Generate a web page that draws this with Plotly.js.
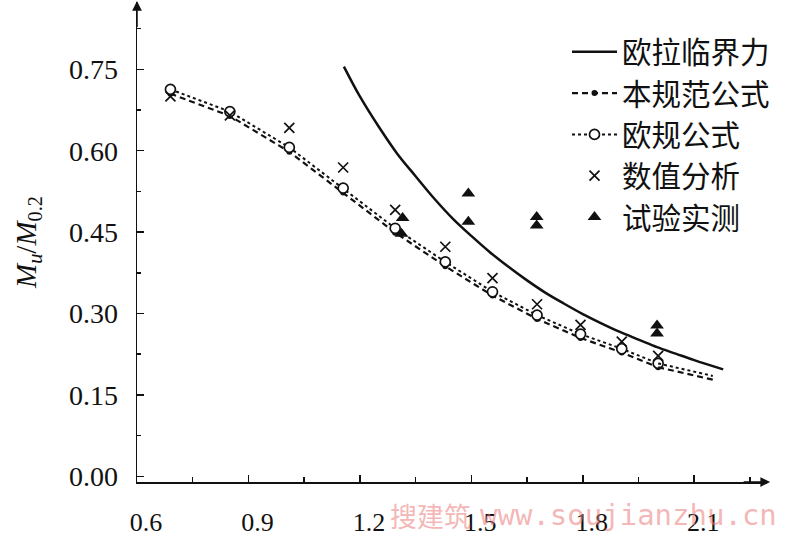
<!DOCTYPE html>
<html><head><meta charset="utf-8">
<script src="https://cdn.plot.ly/plotly-3.0.1.min.js"></script>
<style>html,body{margin:0;padding:0;background:#fff}#chart{width:800px;height:540px}</style>
</head><body><div id="chart"></div>
<script>
// slenderness values of the calculated points
const lambda = [0.69, 0.85, 1.01, 1.155, 1.295, 1.43, 1.557, 1.677, 1.794, 1.905, 2.003];
// 欧规公式 (open circles)
const euroCode = [0.713, 0.672, 0.606, 0.531, 0.457, 0.395, 0.340, 0.297, 0.262, 0.235, 0.208];
// 本规范公式 (filled dots)
const thisCode = [0.705, 0.664, 0.598, 0.523, 0.449, 0.387, 0.333, 0.290, 0.255, 0.228, 0.201];
// 数值分析 (crosses)
const numerical = [0.700, 0.665, 0.642, 0.569, 0.491, 0.423, 0.365, 0.317, 0.279, 0.248, 0.222];
// curve tails beyond the last calculated point
const tailX = [2.003, 2.15];
const euroTail = [0.208, 0.185];
const thisTail = [0.201, 0.178];
// 试验实测 (triangles)
const testX = [1.315, 1.312, 1.492, 1.492, 1.676, 1.676, 2.0, 2.0];
const testY = [0.476, 0.447, 0.521, 0.469, 0.478, 0.462, 0.278, 0.263];
// 欧拉临界力 curve
const eulerX = [1.157, 1.20, 1.25, 1.30, 1.35, 1.40, 1.45, 1.50, 1.55, 1.60, 1.65, 1.70, 1.75, 1.80, 1.85, 1.90, 1.95, 2.00, 2.05, 2.10, 2.178];
const eulerY = [0.755, 0.700, 0.645, 0.595, 0.553, 0.512, 0.475, 0.443, 0.413, 0.386, 0.361, 0.338, 0.318, 0.299, 0.282, 0.266, 0.252, 0.238, 0.226, 0.214, 0.197];
// legend names
const names = ['欧拉临界力', '本规范公式', '欧规公式', '数值分析', '试验实测'];
const xTickVals = [0.6, 0.9, 1.2, 1.5, 1.8, 2.1];
const yTickVals = [0, 0.15, 0.30, 0.45, 0.60, 0.75];

const ink = '#111';
const traces = [
  {x: eulerX, y: eulerY, name: names[0], mode: 'lines', line: {color: ink, width: 2.5, shape: 'spline'}},
  {x: lambda, y: thisCode, name: names[1], mode: 'lines+markers',
   line: {color: ink, width: 2.2, dash: '6px,4px'}, marker: {symbol: 'circle', size: 6, color: ink}},
  {x: lambda, y: euroCode, name: names[2], mode: 'lines+markers',
   line: {color: ink, width: 2, dash: 'dot'},
   marker: {symbol: 'circle', size: 10, color: '#fff', line: {color: ink, width: 1.7}}},
  {x: lambda, y: numerical, name: names[3], mode: 'markers',
   marker: {symbol: 'x-thin-open', size: 10, color: ink, line: {color: ink, width: 1.7}}},
  {x: testX, y: testY, name: names[4], mode: 'markers',
   marker: {symbol: 'triangle-up', size: 12, color: ink}},
  {x: tailX, y: thisTail, mode: 'lines', showlegend: false, hoverinfo: 'skip',
   line: {color: ink, width: 2.2, dash: '6px,4px'}},
  {x: tailX, y: euroTail, mode: 'lines', showlegend: false, hoverinfo: 'skip',
   line: {color: ink, width: 2, dash: 'dot'}}
];

const L = 137, R = 767, T = 2, B = 482;
const px = v => (v - L) / (R - L);
const py = v => (B - v) / (B - T);
const serif = 'Liberation Serif, Times New Roman, serif';

const layout = {
  width: 800, height: 540,
  paper_bgcolor: '#fff', plot_bgcolor: '#fff',
  margin: {l: L, r: 800 - R, t: T, b: 540 - B},
  showlegend: true,
  legend: {x: px(567), y: py(26), xanchor: 'left', yanchor: 'top',
    bgcolor: 'rgba(0,0,0,0)', borderwidth: 0, itemwidth: 45, tracegroupgap: 0,
    font: {family: 'Noto Sans CJK SC, sans-serif', size: 29.5, color: ink}},
  xaxis: {range: [0.6, 2.296], tickvals: xTickVals, tickformat: '.1f',
    ticks: 'inside', ticklen: 7, tickwidth: 1.5, tickcolor: ink,
    showline: true, linewidth: 1.5, linecolor: ink, showgrid: false, zeroline: false,
    tickfont: {family: serif, size: 26, color: ink}, ticklabelshift: 9, ticklabelstandoff: 16,
    minor: {dtick: 0.15, tick0: 0.6, ticks: 'inside', ticklen: 5, tickwidth: 1.5, tickcolor: ink, showgrid: false}},
  yaxis: {range: [-0.0105, 0.874], tickvals: yTickVals, tickformat: '.2f',
    ticks: 'inside', ticklen: 7, tickwidth: 1.5, tickcolor: ink,
    showline: true, linewidth: 1.5, linecolor: ink, showgrid: false, zeroline: false,
    tickfont: {family: serif, size: 28, color: ink}, ticklabelstandoff: 12,
    minor: {dtick: 0.075, tick0: 0, ticks: 'inside', ticklen: 4, tickwidth: 1.5, tickcolor: ink, showgrid: false},
    title: {text: '<i>M</i><sub><i>u</i></sub>/<i>M</i><sub>0.2</sub>', standoff: 24,
      font: {family: serif, size: 29, color: ink}}},
  annotations: [
    {xref: 'paper', yref: 'paper', x: 1.005, y: 0, ax: -28, ay: 0, text: '', showarrow: true,
     arrowhead: 2, arrowsize: 1.3, arrowwidth: 1.5, arrowcolor: ink},
    {xref: 'paper', yref: 'paper', x: 0, y: 1.003, ax: 0, ay: 28, text: '', showarrow: true,
     arrowhead: 2, arrowsize: 1.3, arrowwidth: 1.5, arrowcolor: ink},
    {xref: 'paper', yref: 'paper', x: px(388), y: py(515), xanchor: 'left', yanchor: 'middle',
     text: '搜建筑', showarrow: false,
     font: {family: 'Noto Sans CJK SC, sans-serif', size: 27, color: 'rgba(235,120,120,0.55)'}},
    {xref: 'paper', yref: 'paper', x: px(478), y: py(515), xanchor: 'left', yanchor: 'middle',
     text: 'www.soujianzhu.cn', showarrow: false,
     font: {family: 'DejaVu Sans Mono, monospace', size: 29, color: 'rgba(235,120,120,0.55)'}}
  ]
};

Plotly.newPlot('chart', traces, layout, {displayModeBar: false, staticPlot: true});
</script></body></html>
